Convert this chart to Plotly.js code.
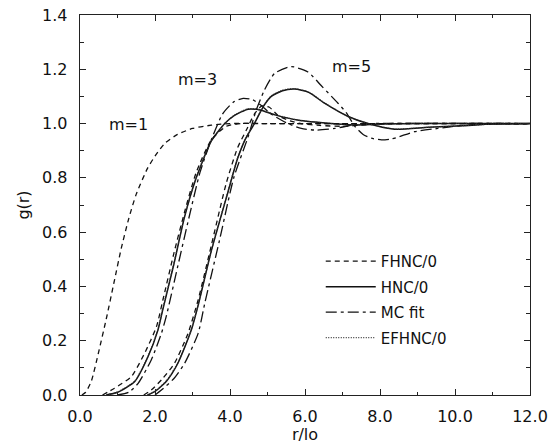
<!DOCTYPE html>
<html>
<head>
<meta charset="utf-8">
<script src="https://cdn.plot.ly/plotly-3.0.1.min.js"></script>
<style>html,body{margin:0;padding:0;background:#fff;}#chart{width:553px;height:448px;}</style>
</head>
<body>
<div id="chart"></div>
<script>
// ---- data ----
const fhncM1X = [0.05, 0.15, 0.3, 0.5, 0.7, 0.9, 1.1, 1.3, 1.5, 1.8, 2.0, 2.26, 2.6, 3.0, 3.5, 4.0, 5.0, 12.0];
const fhncM1Y = [0.0, 0.01, 0.05, 0.16, 0.28, 0.41, 0.54, 0.65, 0.74, 0.835, 0.88, 0.927, 0.96, 0.982, 0.994, 1.0, 1.0, 1.0];

const fhncM3X = [0.6, 0.92, 1.37, 1.72, 2.04, 2.21, 2.5, 2.8, 3.1, 3.5, 3.9, 4.3, 5.0, 12.0];
const fhncM3Y = [0.0, 0.025, 0.068, 0.153, 0.252, 0.35, 0.52, 0.68, 0.82, 0.94, 0.99, 1.0, 1.0, 1.0];

const hncM3X = [0.7, 1.0, 1.46, 1.81, 2.08, 2.2, 2.5, 2.79, 3.1, 3.5, 3.86, 4.12, 4.48, 4.8, 5.2, 5.8, 6.7, 7.3, 8.0, 9.0, 12.0];
const hncM3Y = [0.0, 0.01, 0.05, 0.14, 0.24, 0.31, 0.48, 0.657, 0.8, 0.935, 1.0, 1.03, 1.053, 1.05, 1.032, 1.013, 1.0, 0.995, 0.998, 1.0, 1.0];

const mcM3X = [1.0, 1.3, 1.55, 1.9, 2.17, 2.3, 2.6, 2.9, 3.2, 3.5, 3.8, 4.1, 4.35, 4.6, 4.8, 5.1, 5.5, 5.9, 6.3, 6.8, 7.3, 7.8, 12.0];
const mcM3Y = [0.0, 0.01, 0.043, 0.129, 0.227, 0.29, 0.47, 0.65, 0.82, 0.94, 1.035, 1.08, 1.093, 1.088, 1.07, 1.035, 1.003, 0.982, 0.976, 0.982, 0.995, 1.0, 1.0];

const efhncM3X = [0.7, 1.0, 1.46, 1.81, 2.08, 2.2, 2.5, 2.79, 3.1, 3.5, 3.86, 4.12, 4.48, 4.8, 5.2, 5.8, 6.7, 7.3, 8.0, 9.0, 12.0];
const efhncM3Y = [0.0, 0.011, 0.052, 0.142, 0.243, 0.313, 0.485, 0.66, 0.803, 0.937, 1.0, 1.031, 1.055, 1.051, 1.033, 1.013, 1.0, 0.995, 0.998, 1.0, 1.0];

const fhncM5X = [1.7, 1.9, 2.2, 2.52, 2.88, 3.15, 3.5, 3.9, 4.2, 4.45, 4.65, 4.85, 5.05, 5.28, 5.6, 5.9, 6.4, 7.0, 7.6, 8.2, 12.0];
const fhncM5Y = [0.0, 0.018, 0.06, 0.117, 0.227, 0.35, 0.55, 0.78, 0.91, 0.98, 1.035, 1.065, 1.06, 1.03, 1.01, 1.0, 0.993, 0.99, 0.995, 1.0, 1.0];

const hncM5X = [1.8, 1.99, 2.3, 2.61, 2.97, 3.15, 3.5, 3.95, 4.2, 4.4, 4.65, 4.9, 5.1, 5.4, 5.72, 6.1, 6.52, 7.15, 7.68, 8.39, 9.28, 10.2, 11.0, 12.0];
const hncM5Y = [0.0, 0.012, 0.05, 0.117, 0.24, 0.33, 0.53, 0.75, 0.87, 0.94, 1.0, 1.065, 1.1, 1.121, 1.127, 1.115, 1.075, 1.026, 1.0, 0.979, 0.986, 0.992, 0.998, 1.0];

const mcM5X = [2.0, 2.17, 2.5, 2.79, 3.15, 3.33, 3.72, 4.1, 4.48, 4.7, 4.92, 5.19, 5.63, 6.08, 6.43, 6.88, 7.1, 7.33, 7.55, 7.77, 8.04, 8.3, 8.52, 8.92, 9.54, 10.2, 11.0, 12.0];
const mcM5Y = [0.0, 0.018, 0.06, 0.117, 0.227, 0.34, 0.57, 0.8, 0.95, 1.05, 1.124, 1.185, 1.21, 1.19, 1.14, 1.075, 1.04, 0.99, 0.96, 0.946, 0.94, 0.943, 0.952, 0.97, 0.982, 0.993, 0.999, 1.0];

const efhncM5X = [1.8, 1.99, 2.3, 2.61, 2.97, 3.15, 3.5, 3.95, 4.2, 4.4, 4.65, 4.9, 5.1, 5.4, 5.72, 6.1, 6.52, 7.15, 7.68, 8.39, 9.28, 10.2, 11.0, 12.0];
const efhncM5Y = [0.0, 0.013, 0.052, 0.119, 0.242, 0.332, 0.532, 0.752, 0.872, 0.942, 1.002, 1.067, 1.102, 1.123, 1.129, 1.116, 1.076, 1.026, 1.0, 0.98, 0.986, 0.992, 0.998, 1.0];

const legendNames = ["FHNC/0", "HNC/0", "MC fit", "EFHNC/0"];
const labels = [{t: "m=1", x: 1.28, y: 0.995}, {t: "m=3", x: 3.12, y: 1.164}, {t: "m=5", x: 7.25, y: 1.209}];

// ---- styles ----
const FONT = "DejaVu Sans, Arial, sans-serif";
const styles = {
  "FHNC/0": {color: "#111", width: 1.3, dash: "5px,4px"},
  "HNC/0": {color: "#111", width: 1.5, dash: "solid"},
  "MC fit": {color: "#111", width: 1.3, dash: "11px,4px,3px,4px"},
  "EFHNC/0": {color: "#333", width: 1.2, dash: "1px,1.5px"}
};

function tr(x, y, name, show) {
  return {
    x: x, y: y, type: "scatter", mode: "lines", name: name,
    legendgroup: name, showlegend: show,
    line: Object.assign({shape: "spline", smoothing: 0.6}, styles[name]),
    hoverinfo: "skip"
  };
}

const data = [
  tr(fhncM1X, fhncM1Y, legendNames[0], true),
  tr(hncM3X, hncM3Y, legendNames[1], true),
  tr(mcM3X, mcM3Y, legendNames[2], true),
  tr(efhncM3X, efhncM3Y, legendNames[3], true),
  tr(fhncM3X, fhncM3Y, legendNames[0], false),
  tr(fhncM5X, fhncM5Y, legendNames[0], false),
  tr(hncM5X, hncM5Y, legendNames[1], false),
  tr(mcM5X, mcM5Y, legendNames[2], false),
  tr(efhncM5X, efhncM5Y, legendNames[3], false)
];

const axisCommon = {
  showgrid: false, zeroline: false,
  showline: true, linecolor: "#222", linewidth: 1.3, mirror: "allticks",
  ticks: "inside", tickcolor: "#222", tickwidth: 1, ticklen: 6,
  tickfont: {family: FONT, size: 16, color: "#111"}
};

const layout = {
  width: 553, height: 448,
  margin: {l: 80, r: 23, t: 15, b: 53},
  paper_bgcolor: "#fff", plot_bgcolor: "#fff",
  font: {family: FONT, color: "#111"},
  xaxis: Object.assign({}, axisCommon, {
    range: [0, 12], tick0: 0, dtick: 2, tickformat: ".1f",
    minor: {dtick: 1, ticks: "inside", ticklen: 3, tickcolor: "#222", showgrid: false},
    ticklabelstandoff: 6,
    title: {text: "r/lo", font: {family: FONT, size: 16, color: "#111"}, standoff: 2}
  }),
  yaxis: Object.assign({}, axisCommon, {
    range: [0, 1.4], tick0: 0, dtick: 0.2, tickformat: ".1f",
    minor: {dtick: 0.1, ticks: "inside", ticklen: 4, tickcolor: "#222", showgrid: false},
    ticklabelstandoff: 8,
    title: {text: "g(r)", font: {family: FONT, size: 16, color: "#111"}, standoff: 8}
  }),
  legend: {
    x: 0.535, y: 0.395, xanchor: "left", yanchor: "top",
    bgcolor: "rgba(0,0,0,0)", borderwidth: 0,
    font: {family: FONT, size: 15, color: "#111"},
    itemwidth: 50, tracegroupgap: 3
  },
  annotations: labels.map(l => ({
    text: l.t, x: l.x, y: l.y, xref: "x", yref: "y", showarrow: false,
    font: {family: FONT, size: 16, color: "#111"}
  }))
};

Plotly.newPlot("chart", data, layout, {displayModeBar: false, staticPlot: true});
</script>
</body>
</html>
